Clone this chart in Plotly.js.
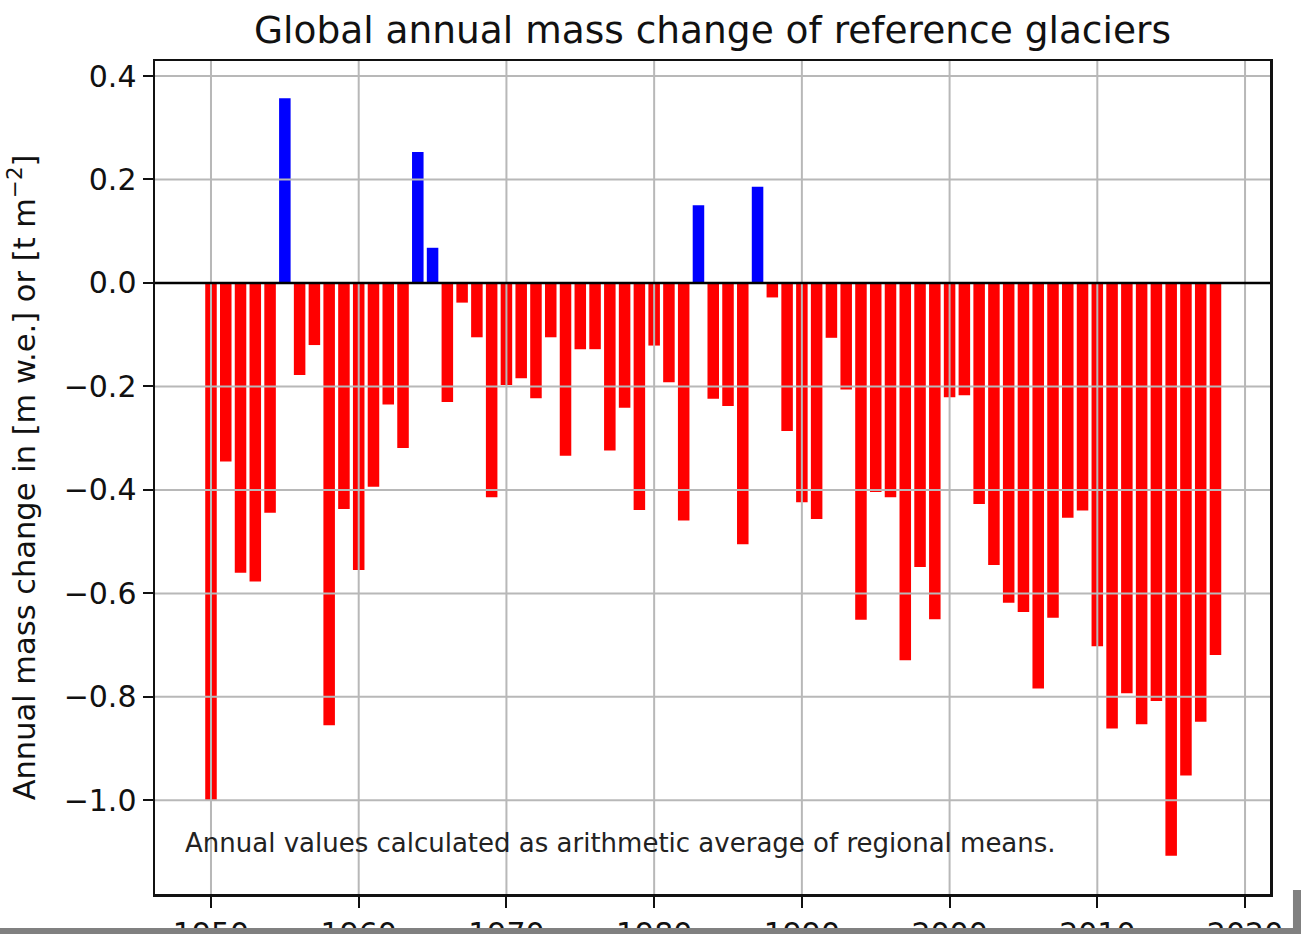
<!DOCTYPE html>
<html>
<head>
<meta charset="utf-8">
<script src="https://cdn.plot.ly/plotly-3.0.1.min.js"></script>
<style>html,body{margin:0;padding:0;background:#fff;}#chart{width:1301px;height:934px;}</style>
</head>
<body>
<div id="chart"></div>
<script>
const years = [1950,1951,1952,1953,1954,1955,1956,1957,1958,1959,
  1960,1961,1962,1963,1964,1965,1966,1967,1968,1969,
  1970,1971,1972,1973,1974,1975,1976,1977,1978,1979,
  1980,1981,1982,1983,1984,1985,1986,1987,1988,1989,
  1990,1991,1992,1993,1994,1995,1996,1997,1998,1999,
  2000,2001,2002,2003,2004,2005,2006,2007,2008,2009,
  2010,2011,2012,2013,2014,2015,2016,2017,2018];
const massChange = [-1.000,-0.345,-0.560,-0.577,-0.444,0.357,-0.178,-0.120,-0.855,-0.437,
  -0.555,-0.394,-0.235,-0.319,0.253,0.068,-0.230,-0.038,-0.105,-0.414,
  -0.197,-0.184,-0.223,-0.105,-0.334,-0.128,-0.128,-0.324,-0.241,-0.439,
  -0.121,-0.192,-0.459,0.150,-0.224,-0.238,-0.505,0.186,-0.028,-0.286,
  -0.424,-0.456,-0.106,-0.206,-0.651,-0.404,-0.414,-0.729,-0.549,-0.650,
  -0.221,-0.217,-0.427,-0.545,-0.618,-0.636,-0.784,-0.647,-0.454,-0.440,
  -0.702,-0.861,-0.793,-0.853,-0.808,-1.107,-0.952,-0.848,-0.719];
const xTicks = [1950,1960,1970,1980,1990,2000,2010,2020];
const yTicks = [0.4,0.2,0.0,-0.2,-0.4,-0.6,-0.8,-1.0];
const titleText = 'Global annual mass change of reference glaciers';
const yTitle = 'Annual mass change in [m w.e.] or [t m<sup>\u22122</sup>]';
const noteText = 'Annual values calculated as arithmetic average of regional means.';

const colors = massChange.map(v => v >= 0 ? '#0000ff' : '#ff0000');

const gridColor = '#b8b8b8';
const shapes = [];
xTicks.forEach(t => shapes.push({type:'line', xref:'x', yref:'paper', x0:t, x1:t, y0:0, y1:1,
  line:{color:gridColor, width:2}, layer:'above'}));
yTicks.forEach(t => shapes.push({type:'line', xref:'paper', yref:'y', x0:0, x1:1, y0:t, y1:t,
  line:{color:gridColor, width:2}, layer:'above'}));
// zero line
shapes.push({type:'line', xref:'paper', yref:'y', x0:0, x1:1, y0:0, y1:0, line:{color:'#000', width:2.5}, layer:'above'});
// screenshot artefacts: grey band at bottom and strip at right
shapes.push({type:'rect', xref:'paper', yref:'paper', x0:-0.2, x1:1.05, y0:-0.07, y1:-0.0408,
  fillcolor:'#808080', line:{width:0}, layer:'above'});
shapes.push({type:'rect', xref:'paper', yref:'paper', x0:1.0206, x1:1.05, y0:-0.07, y1:0.0048,
  fillcolor:'#808080', line:{width:0}, layer:'above'});

const trace = {
  type:'bar', x: years, y: massChange, width: 0.78,
  marker:{color: colors, line:{width:0}},
  hoverinfo:'x+y'
};

const layout = {
  width:1301, height:934,
  margin:{l:155, r:31, t:61, b:40, pad:0},
  paper_bgcolor:'#fff', plot_bgcolor:'#fff',
  font:{family:'DejaVu Sans, sans-serif', color:'#111', size:30},
  showlegend:false,
  title:{text:titleText, font:{size:37.5, color:'#111'}, x:0.5, xref:'paper', xanchor:'center',
    y:1-30/934, yref:'container', yanchor:'middle'},
  xaxis:{range:[1946.21, 2021.69], tickvals:xTicks, ticktext:xTicks.map(String),
    showgrid:false, zeroline:false, showline:true, mirror:true, linecolor:'#111', linewidth:2.5,
    ticks:'outside', ticklen:11, tickwidth:2, tickcolor:'#111', tickfont:{size:30}},
  yaxis:{range:[-1.181, 0.429], tickvals:yTicks, tickformat:'.1f',
    showgrid:false, zeroline:false, showline:true, mirror:true, linecolor:'#111', linewidth:2.5,
    ticks:'outside', ticklen:10, tickwidth:2, tickcolor:'#111', tickfont:{size:30},
    title:{text:yTitle, font:{size:30.5}, standoff:19}},
  shapes: shapes,
  annotations:[{text:noteText, xref:'paper', yref:'paper', x:0.0251, y:0.0612,
    xanchor:'left', yanchor:'middle', showarrow:false, font:{size:26, color:'#222'}}]
};

Plotly.newPlot('chart', [trace], layout, {displayModeBar:false, staticPlot:true});
</script>
</body>
</html>
